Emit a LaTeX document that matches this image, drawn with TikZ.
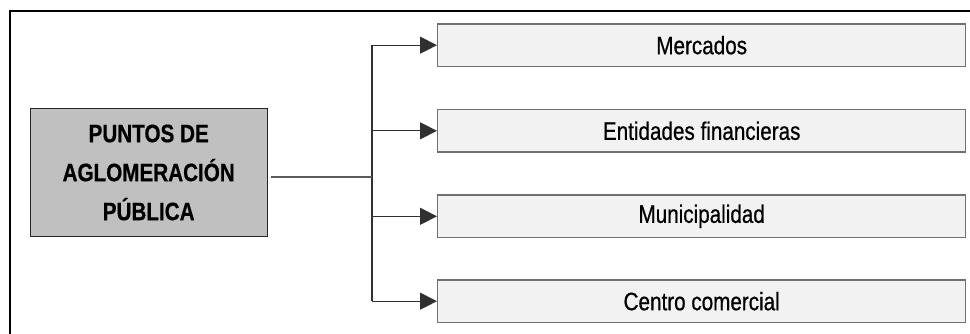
\documentclass[tikz,border=0pt]{standalone}
\usepackage{fontspec}
\setmainfont{Liberation Sans}[FakeStretch=0.82,UprightFeatures={FakeBold=0.6},BoldFeatures={FakeBold=0.6}]
\usetikzlibrary{arrows.meta}
\definecolor{mainfill}{HTML}{C0C0C0}
\definecolor{subfill}{HTML}{F2F2F2}
\definecolor{subdraw}{HTML}{707070}
\definecolor{linecol}{HTML}{303030}
\begin{document}
\begin{tikzpicture}[x=1pt,y=-1pt,
  mainbox/.style={draw=black!85,line width=1.2pt,fill=mainfill,minimum width=237pt,minimum height=128pt,inner sep=0pt,align=center,
    font=\fontsize{25.2}{39}\selectfont\bfseries},
  subbox/.style={draw=subdraw,line width=1.4pt,fill=subfill,minimum width=528pt,minimum height=42.5pt,inner sep=0pt,
    font=\fontsize{25.2}{30}\selectfont},
  conn/.style={draw=linecol,line width=1.2pt},
  tipc/.style={-{Triangle[length=17pt,width=17pt]}}]
\useasboundingbox (0,0) rectangle (970,333);
\draw[line width=2.5pt,black] (10,340) -- (10,11) -- (980,11);
\node[mainbox] (main) at (148.7,172.5) {PUNTOS DE\\AGLOMERACIÓN\\PÚBLICA};
\node[subbox] (s1) at (701.7,45.2) {Mercados};
\node[subbox] (s2) at (701.7,130.8) {Entidades financieras};
\node[subbox] (s3) at (701.7,216.3) {Municipalidad};
\node[subbox] (s4) at (701.7,301.2) {Centro comercial};
\coordinate (j) at (372,177);
\draw[conn] (j |- s1.west) -- (j |- s4.west);
\draw[conn,draw=black!65,shorten <=3pt] (main.east |- j) -- (j);
\foreach \s in {s1,s2,s3,s4}{
  \draw[conn,tipc] (j |- \s.west) -- (\s.west);
}
\end{tikzpicture}
\end{document}
